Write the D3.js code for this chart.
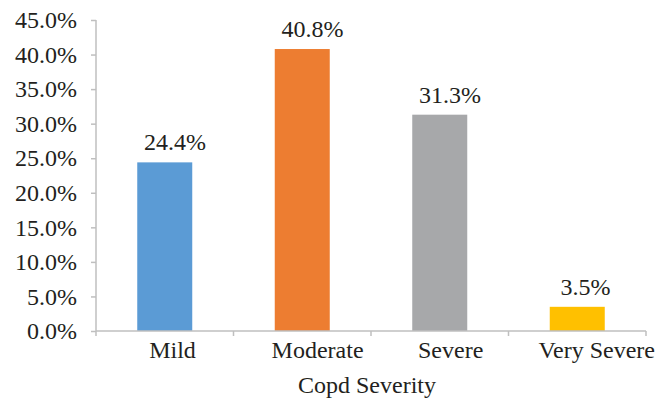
<!DOCTYPE html>
<html>
<head>
<meta charset="utf-8">
<script src="https://cdn.jsdelivr.net/npm/d3@7"></script>
<style>
  html, body { margin: 0; padding: 0; background: #fff; }
  svg { display: block; }
</style>
</head>
<body>
<svg id="chart" width="670" height="403"></svg>
<script>
// COPD severity distribution
const categories = ["Mild", "Moderate", "Severe", "Very Severe"];
const values = [24.4, 40.8, 31.3, 3.5];
const barColors = ["#5B9BD5", "#ED7D31", "#A7A8AA", "#FFC000"];
const yTicks = [0, 5, 10, 15, 20, 25, 30, 35, 40, 45];
const xTitle = "Copd Severity";

const svg = d3.select("#chart");
const margin = { top: 20, right: 24, bottom: 72, left: 96 };
const width = 670 - margin.left - margin.right;
const height = 403 - margin.top - margin.bottom;
const textColor = "#231f20";
const axisColor = "#bfbfbf";
const fontSize = 24;
const serif = "'Liberation Serif', 'Times New Roman', Times, serif";

// labels sit slightly right of the bar centre, proportional to their length
const nudge = function () { return this.getComputedTextLength() / 6; };

const g = svg.append("g").attr("transform", `translate(${margin.left},${margin.top})`);

const x = d3.scaleBand().domain(categories).range([0, width]).paddingInner(0.6).paddingOuter(0.3);
const y = d3.scaleLinear().domain([0, 45]).range([height, 0]);

// bars
g.selectAll("rect.bar")
  .data(values)
  .join("rect")
  .attr("class", "bar")
  .attr("x", (d, i) => x(categories[i]))
  .attr("y", d => y(d))
  .attr("width", x.bandwidth())
  .attr("height", d => height - y(d))
  .attr("fill", (d, i) => barColors[i]);

// value labels
g.selectAll("text.val")
  .data(values)
  .join("text")
  .attr("class", "val")
  .attr("x", (d, i) => x(categories[i]) + x.bandwidth() / 2)
  .attr("y", d => y(d) - 12)
  .attr("text-anchor", "middle")
  .style("font-family", serif)
  .style("font-size", fontSize + "px")
  .attr("fill", textColor)
  .text(d => d.toFixed(1) + "%")
  .attr("dx", nudge);

// y axis
const yAxis = g.append("g")
  .call(d3.axisLeft(y).tickValues(yTicks).tickSize(5).tickPadding(14).tickFormat(d => d.toFixed(1) + "%"));
yAxis.select(".domain").attr("stroke", axisColor).attr("stroke-width", 1.5).attr("d", `M0,${height}V0`);
yAxis.selectAll(".tick line").attr("stroke", axisColor).attr("stroke-width", 1.5);
yAxis.selectAll(".tick text")
  .style("font-family", serif)
  .style("font-size", fontSize + "px")
  .attr("fill", textColor);

// x axis with ticks at band boundaries
const xAxis = g.append("g").attr("transform", `translate(0,${height})`);
xAxis.append("line").attr("x1", 0).attr("x2", width).attr("stroke", axisColor).attr("stroke-width", 1.5);
const bounds = d3.range(categories.length + 1).map(i => i * width / categories.length);
xAxis.selectAll("line.tk")
  .data(bounds)
  .join("line")
  .attr("class", "tk")
  .attr("x1", d => d).attr("x2", d => d)
  .attr("y1", 0).attr("y2", 5)
  .attr("stroke", axisColor).attr("stroke-width", 1.5);
xAxis.selectAll("text.cat")
  .data(categories)
  .join("text")
  .attr("class", "cat")
  .attr("x", d => x(d) + x.bandwidth() / 2)
  .attr("y", 27)
  .attr("text-anchor", "middle")
  .style("font-family", serif)
  .style("font-size", fontSize + "px")
  .attr("fill", textColor)
  .text(d => d)
  .attr("dx", nudge);

// axis title
svg.append("text")
  .attr("x", margin.left + width / 2 - 4)
  .attr("y", 393)
  .attr("text-anchor", "middle")
  .style("font-family", serif)
  .style("font-size", fontSize + "px")
  .attr("fill", textColor)
  .text(xTitle);
</script>
</body>
</html>
